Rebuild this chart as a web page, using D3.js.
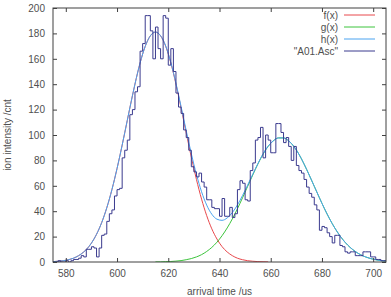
<!DOCTYPE html>
<html>
<head>
<meta charset="utf-8">
<script src="https://cdn.jsdelivr.net/npm/d3@7"></script>
<style>
  body { margin: 0; background: #fff; }
  svg text { font-family: "Liberation Sans", Arial, sans-serif; font-size: 10px; fill: #505050; }
</style>
</head>
<body>
<svg id="chart" width="391" height="297"></svg>
<script>
// histogram "A01.Asc": counts per 1 us bin, first bin starts at 575 us
const binStart = 575;
const counts = [
  0, 0, 1, 0, 0, 1, 0, 1, 2, 2,
  3, 5, 4, 10, 10, 12, 11, 4, 11, 21,
  22, 32, 38, 41, 52, 57, 58, 82, 88, 96,
  116, 120, 134, 138, 166, 172, 194, 194, 182, 160,
  185, 168, 160, 194, 192, 155, 168, 150, 133, 122,
  117, 104, 98, 88, 75, 71, 67, 70, 63, 59,
  49, 49, 43, 42, 42, 36, 50, 36, 36, 43,
  35, 38, 57, 64, 62, 49, 48, 72, 78, 96,
  98, 106, 82, 100, 96, 86, 86, 109, 109, 102,
  94, 98, 91, 80, 91, 76, 72, 70, 65, 59,
  54, 51, 45, 41, 25, 28, 27, 23, 20, 15,
  21, 21, 13, 12, 8, 7, 8, 8, 5, 5,
  5, 8, 8, 8, 4, 4, 2, 2, 1, 1
];

// fitted curves, sampled at these times
const curveTime = [
  575, 577, 579, 581, 583, 585, 587, 589, 591, 593, 595, 597, 599, 601, 603, 605, 607, 609, 611, 613,
  615, 617, 619, 621, 623, 625, 627, 629, 631, 633, 635, 637, 639, 641, 643, 645, 647, 649, 651, 653,
  655, 657, 659, 661, 663, 665, 667, 669, 671, 673, 675, 677, 679, 681, 683, 685, 687, 689, 691, 693,
  695, 697, 699, 701, 703, 705
];
const fVals = [
  0.3, 0.6, 1.0, 1.8, 3.0, 5.0, 7.9, 12.1, 18.1, 26.1, 36.5, 49.5, 65.0, 82.6, 101.7, 121.3, 140.1, 156.7, 169.8, 178.1,
  181.0, 178.1, 169.8, 156.7, 140.1, 121.3, 101.7, 82.6, 65.0, 49.5, 36.5, 26.1, 18.1, 12.1, 7.9, 5.0, 3.0, 1.8, 1.0, 0.6,
  0.3, 0.2, 0.1, null, null, null, null, null, null, null, null, null, null, null, null, null, null, null, null, null,
  null, null, null, null, null, null
];
const gVals = [
  null, null, null, null, null, null, null, null, null, null, null, null, null, null, null, null, null, null, null, null,
  0.1, 0.1, 0.3, 0.4, 0.7, 1.1, 1.8, 2.7, 4.0, 5.8, 8.3, 11.5, 15.6, 20.7, 26.8, 33.9, 41.9, 50.6, 59.6, 68.6,
  77.2, 84.9, 91.1, 95.4, 97.7, 97.7, 95.4, 91.1, 84.9, 77.2, 68.6, 59.6, 50.6, 41.9, 33.9, 26.8, 20.7, 15.6, 11.5, 8.3,
  5.8, 4.0, 2.7, 1.8, 1.1, 0.7
];
const hVals = [
  0.3, 0.6, 1.0, 1.8, 3.0, 5.0, 7.9, 12.1, 18.1, 26.1, 36.5, 49.5, 65.0, 82.6, 101.7, 121.3, 140.1, 156.7, 169.8, 178.1,
  181.1, 178.2, 170.1, 157.1, 140.8, 122.4, 103.5, 85.3, 69.0, 55.3, 44.8, 37.6, 33.7, 32.8, 34.7, 38.9, 44.9, 52.4, 60.6, 69.2,
  77.5, 85.1, 91.2, 95.4, 97.7, 97.7, 95.4, 91.1, 84.9, 77.2, 68.6, 59.6, 50.6, 41.9, 33.9, 26.8, 20.7, 15.6, 11.5, 8.3,
  5.8, 4.0, 2.7, 1.8, 1.1, 0.7
];

const xTicks = [580, 600, 620, 640, 660, 680, 700];
const yTicks = [0, 20, 40, 60, 80, 100, 120, 140, 160, 180, 200];

const series = [
  { label: 'f(x)', color: '#e8484c', values: fVals },
  { label: 'g(x)', color: '#3cc43c', values: gVals },
  { label: 'h(x)', color: '#4aa3f0', values: hVals }
];
const dataLabel = '"A01.Asc"';
const dataColor = '#3a3a8e';

const margin = { left: 53, right: 5, top: 8, bottom: 35 };
const W = 391, H = 297;
const svg = d3.select('#chart');

const x = d3.scaleLinear().domain([575, 705]).range([margin.left, W - margin.right]);
const y = d3.scaleLinear().domain([0, 200]).range([H - margin.bottom, margin.top]);

svg.append('defs').append('clipPath').attr('id', 'clip')
  .append('rect')
  .attr('x', x(575)).attr('y', y(200))
  .attr('width', x(705) - x(575)).attr('height', y(0) - y(200));

const plot = svg.append('g').attr('clip-path', 'url(#clip)');

// curves
series.forEach(s => {
  const line = d3.line()
    .defined((d, i) => s.values[i] != null)
    .x(d => x(d))
    .y((d, i) => y(s.values[i]))
    .curve(d3.curveMonotoneX);
  plot.append('path')
    .attr('d', line(curveTime))
    .attr('fill', 'none')
    .attr('stroke', s.color)
    .attr('stroke-width', 1);
});

// histogram steps
const steps = counts.map((c, i) => [binStart + i, c]);
steps.push([binStart + counts.length, counts[counts.length - 1]]);
plot.append('path')
  .attr('d', d3.line().x(d => x(d[0])).y(d => y(d[1])).curve(d3.curveStepAfter)(steps))
  .attr('fill', 'none')
  .attr('stroke', dataColor)
  .attr('stroke-width', 1);

// axes, gnuplot style: inward ticks, mirrored
const tickLen = 4;
const axisColor = '#404040';
const style = g => {
  g.select('.domain').remove();
  g.selectAll('line').attr('stroke', axisColor);
  g.selectAll('text').attr('fill', '#505050');
};

svg.append('g').attr('transform', `translate(0,${y(0)})`)
  .call(d3.axisBottom(x).tickValues(xTicks).tickSizeInner(-tickLen).tickSizeOuter(0).tickPadding(8))
  .call(style)
  .call(g => g.selectAll('text').style('font-size', '10px').style('font-family', '"Liberation Sans", Arial, sans-serif'));

svg.append('g').attr('transform', `translate(0,${y(200)})`)
  .call(d3.axisTop(x).tickValues(xTicks).tickSizeInner(-tickLen).tickSizeOuter(0).tickFormat(''))
  .call(style);

svg.append('g').attr('transform', `translate(${x(575)},0)`)
  .call(d3.axisLeft(y).tickValues(yTicks).tickSizeInner(-tickLen).tickSizeOuter(0).tickPadding(8))
  .call(style)
  .call(g => g.selectAll('text').style('font-size', '10px').style('font-family', '"Liberation Sans", Arial, sans-serif'));

svg.append('g').attr('transform', `translate(${x(705)},0)`)
  .call(d3.axisRight(y).tickValues(yTicks).tickSizeInner(-tickLen).tickSizeOuter(0).tickFormat(''))
  .call(style);

svg.append('rect')
  .attr('x', x(575)).attr('y', y(200))
  .attr('width', x(705) - x(575)).attr('height', y(0) - y(200))
  .attr('fill', 'none').attr('stroke', axisColor).attr('stroke-width', 1);

// axis titles
svg.append('text')
  .attr('x', (x(575) + x(705)) / 2).attr('y', 295)
  .attr('text-anchor', 'middle')
  .text('arrival time /us');

svg.append('text')
  .attr('transform', `translate(11,${(y(0) + y(200)) / 2}) rotate(-90)`)
  .attr('text-anchor', 'middle')
  .text('ion intensity /cnt');

// legend
const legendItems = series.map(s => ({ label: s.label, color: s.color }))
  .concat([{ label: dataLabel, color: dataColor }]);
const legend = svg.append('g');
legendItems.forEach((d, i) => {
  const ly = 15 + i * 12;
  legend.append('text')
    .attr('x', 338).attr('y', ly + 3.5)
    .attr('text-anchor', 'end')
    .text(d.label);
  legend.append('line')
    .attr('x1', 344).attr('x2', 375)
    .attr('y1', ly).attr('y2', ly)
    .attr('stroke', d.color).attr('stroke-width', 1);
});
</script>
</body>
</html>
